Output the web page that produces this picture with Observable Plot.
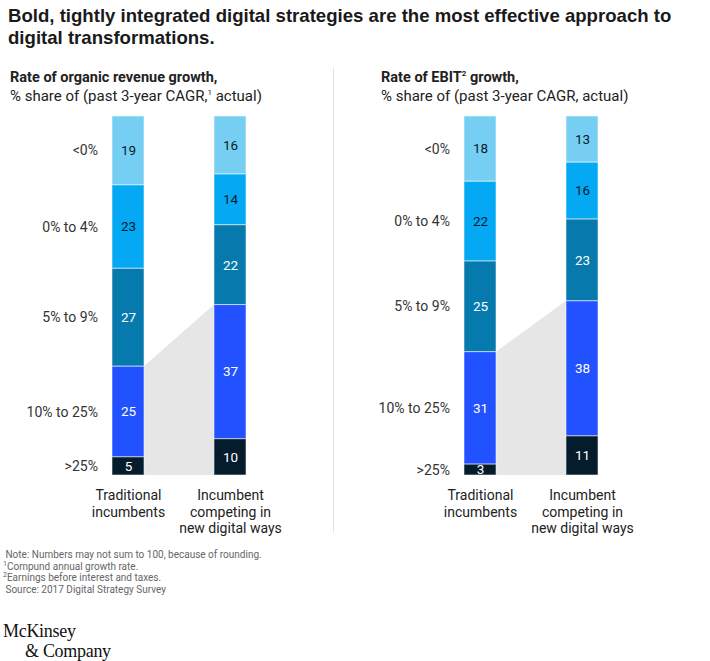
<!DOCTYPE html>
<html><head><meta charset="utf-8">
<script src="https://cdn.jsdelivr.net/npm/d3@7"></script>
<script src="https://cdn.jsdelivr.net/npm/@observablehq/plot@0.6"></script>
<style>
body{margin:0;background:#fff;font-family:Roboto,"Liberation Sans",sans-serif;color:#111;}
#root{position:relative;width:710px;height:661px;overflow:hidden;}
.abs{position:absolute;white-space:nowrap;}
#title{left:8px;top:5px;font-family:"Liberation Sans",Arial,sans-serif;font-size:18.6px;line-height:22px;font-weight:700;color:#1a1a1a;}
.hdr{top:68px;font-size:15px;line-height:19px;color:#222;}
.hdr b{font-weight:700;font-size:14.5px;}
sup{font-size:8px;line-height:0;vertical-align:6px;}
#divider{left:333px;top:68px;width:1px;height:465px;background:#e3e3e3;}
#notes{left:3px;top:549px;font-size:10px;line-height:11.6px;color:#666;}
.logo{left:3px;font-family:"Liberation Serif","DejaVu Serif",serif;font-size:18px;line-height:20px;height:20px;color:#111;letter-spacing:-0.3px;}
</style></head>
<body><div id="root">
<div class="abs" id="title">Bold, tightly integrated digital strategies are the most effective approach to<br>digital transformations.</div>
<div class="abs hdr" style="left:10px"><b>Rate of organic revenue growth,</b><br>% share of (past 3-year CAGR,<sup>1</sup> actual)</div>
<div class="abs hdr" style="left:381px"><b>Rate of EBIT<sup>2</sup> growth,</b><br>% share of (past 3-year CAGR, actual)</div>
<div class="abs" id="divider"></div>
<div class="abs" id="left" style="left:0;top:60px"></div>
<div class="abs" id="right" style="left:352px;top:60px"></div>
<div class="abs" id="notes">&nbsp;Note: Numbers may not sum to 100, because of rounding.<br><sup style="font-size:7px;vertical-align:4px">1</sup>Compund annual growth rate.<br><sup style="font-size:7px;vertical-align:4px">2</sup>Earnings before interest and taxes.<br>&nbsp;Source: 2017 Digital Strategy Survey</div>
<div class="abs logo" style="top:621px">McKinsey</div>
<div class="abs logo" style="top:641px;left:25px">&amp; Company</div>
</div>
<script>
const bands = ["<0%", "0% to 4%", "5% to 9%", "10% to 25%", ">25%"];
const groups = ["Traditional\nincumbents", "Incumbent\ncompeting in\nnew digital ways"];
const revenueTraditional = [19, 23, 27, 25, 5];
const revenueIncumbent = [16, 14, 22, 37, 10];
const ebitTraditional = [18, 22, 25, 31, 3];
const ebitIncumbent = [13, 16, 23, 38, 11];
const bandColors = ["#76cff2", "#04a8f3", "#0679ad", "#2251ff", "#051c2c"];
const labelColors = ["#051c2c", "#051c2c", "#ffffff", "#ffffff", "#ffffff"];

function panel(trad, inc) {
  const hw = 0.157;
  const series = [trad, inc];
  const rows = series.flatMap((vals, g) => vals.map((v, b) => ({g, b, band: bands[b], value: v})));
  const share = vals => d3.sum(vals.slice(0, 3)) / d3.sum(vals);
  const connector = [
    {x: 0 + hw, top: share(trad)},
    {x: 1 - hw, top: share(inc)}
  ];
  const stack = {x: "g", y: "value", z: "band", offset: "normalize"};
  return Plot.plot({
    width: 352, height: 480,
    margin: 0,
    x: {domain: [0, 1], range: [128, 230], axis: null},
    y: {domain: [0, 1], range: [56, 415], axis: null},
    color: {type: "identity"},
    style: {fontFamily: "Roboto, 'Liberation Sans', sans-serif", background: "transparent"},
    marks: [
      Plot.area(connector, {x1: "x", y1: "top", y2: 1, fill: "#e6e6e6"}),
      Plot.rect(rows, Plot.stackY({...stack, x1: d => d.g - hw, x2: d => d.g + hw,
        fill: d => bandColors[d.b], stroke: "#ffffff", strokeOpacity: 0.55, strokeWidth: 1})),
      Plot.text(rows, Plot.stackY({...stack, text: d => String(d.value),
        fill: d => labelColors[d.b], fontSize: 13.5})),
      Plot.text(rows.filter(d => d.g === 0), Plot.stackY({...stack, x: d => d.g - 0.3,
        text: "band", textAnchor: "end", fill: "#333333", fontSize: 14})),
      Plot.text(groups, {x: (d, i) => i, y: 1, dy: 13, lineAnchor: "top", text: d => d,
        fill: "#222222", fontSize: 14, lineHeight: 1.18})
    ]
  });
}
document.getElementById("left").appendChild(panel(revenueTraditional, revenueIncumbent));
document.getElementById("right").appendChild(panel(ebitTraditional, ebitIncumbent));
</script>
</body></html>
